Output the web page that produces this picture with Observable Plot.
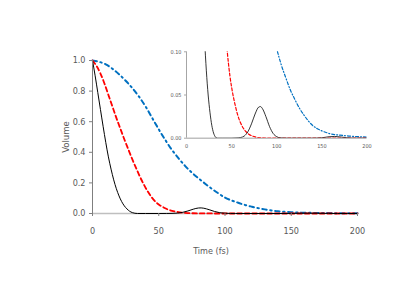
<!DOCTYPE html>
<html><head><meta charset="utf-8">
<script src="https://cdn.jsdelivr.net/npm/d3@7"></script>
<script src="https://cdn.jsdelivr.net/npm/@observablehq/plot@0.6"></script>
<style>
html,body{margin:0;padding:0;background:#fff;}
#wrap{position:relative;width:415px;height:294px;}
#wrap svg{position:absolute;left:0;top:0;}
</style></head><body><div id="wrap"></div>
<script>
// Time (fs) and volume values
const blackT = [0,2,4,6,8,10,12,14,16,18,20,22,24,26,28,30,32,34,40,50,56,60,64,68,72,76,80,82,84,88,92,96,100,104,108,112,140,150,158,164,170,178,185,200];
const blackV = [1.0,0.9,0.79,0.68,0.57,0.465,0.37,0.29,0.22,0.162,0.115,0.078,0.05,0.03,0.015,0.006,0.0015,0,0,0,0.0003,0.0008,0.0025,0.0075,0.0166,0.028,0.036,0.0366,0.0345,0.025,0.0135,0.0055,0.0017,0.0004,0.0001,0,0,0.0005,0.0017,0.002,0.0015,0.0005,0,0];
const redT = [0,3,6,9,12,15,18,21,24,27,30,33,36,39,42,45,48,51,54,57,60,63,66,69,72,76,80,90,100,150,200];
const redV = [1.0,0.965,0.915,0.85,0.775,0.7,0.625,0.555,0.485,0.42,0.355,0.295,0.237,0.185,0.14,0.102,0.073,0.053,0.038,0.026,0.0175,0.0115,0.0075,0.0047,0.003,0.0015,0.0007,0.0002,0.0001,0,0];
const blueT = [0,10,20,30,35,40,45,50,55,60,65,70,75,80,85,90,95,100,105,110,115,120,125,130,135,140,145,150,160,170,180,190,200];
const blueV = [1.0,0.975,0.91,0.82,0.765,0.7,0.625,0.55,0.48,0.415,0.36,0.31,0.267,0.23,0.195,0.162,0.132,0.104,0.085,0.07,0.056,0.045,0.035,0.027,0.02,0.0145,0.011,0.0085,0.005,0.0035,0.0025,0.0018,0.0012];
const mainXTicks = [0,50,100,150,200];
const mainYTicks = [0,0.2,0.4,0.6,0.8,1.0];
const insetXTicks = [0,50,100,150,200];
const insetYTicks = [0,0.05,0.1];
const xTitle = "Time (fs)";
const yTitle = "Volume";

const toRows = (T, V) => T.map((t, i) => ({t, v: V[i]}));
const black = toRows(blackT, blackV);
const red = toRows(redT, redV);
const blue = toRows(blueT, blueV);

const FONT = "'Liberation Sans Narrow', 'Arial Narrow', 'DejaVu Sans Condensed', sans-serif";
const wrap = document.getElementById("wrap");

const main = Plot.plot({
  width: 415, height: 294,
  marginLeft: 92, marginRight: 58, marginTop: 60, marginBottom: 81,
  style: {fontFamily: FONT, fontSize: "9px", color: "#595959", background: "transparent", overflow: "visible"},
  x: {domain: [0, 200]},
  y: {domain: [0, 1]},
  marks: [
    Plot.ruleY([0], {stroke: "#bfbfbf", strokeWidth: 1.5}),
    Plot.line(blue, {x: "t", y: "v", stroke: "#0070c0", strokeWidth: 2, strokeDasharray: "4.5,3.5,1.5,3.5", curve: "monotone-x"}),
    Plot.line(red, {x: "t", y: "v", stroke: "#ff0000", strokeWidth: 1.8, strokeDasharray: "4.5,3", curve: "monotone-x"}),
    Plot.line(black, {x: "t", y: "v", stroke: "#000000", strokeWidth: 1, curve: "monotone-x"}),
    Plot.ruleX([0], {stroke: "#7f7f7f", strokeWidth: 1}),
    Plot.axisY({ticks: mainYTicks, tickFormat: d => d.toFixed(1), tickSize: 3, tickPadding: 4, stroke: "#7f7f7f", label: null, fontSize: 9}),
    Plot.axisX({ticks: mainXTicks, tickSize: 3, tickPadding: 11, stroke: "#7f7f7f", label: null, fontSize: 9}),
    Plot.text([yTitle], {frameAnchor: "left", textAnchor: "middle", rotate: -90, dx: -27, fontSize: 9.5, fill: "#595959", letterSpacing: "0.4px"}),
    Plot.text([xTitle], {frameAnchor: "bottom", dx: -14, dy: 40, fontSize: 9, fill: "#595959"})
  ]
});
wrap.appendChild(main);

const inset = Plot.plot({
  width: 415, height: 294,
  marginLeft: 186, marginRight: 48.5, marginTop: 51.3, marginBottom: 156.3,
  style: {fontFamily: FONT, fontSize: "5.5px", color: "#595959", background: "transparent", overflow: "visible"},
  x: {domain: [0, 200]},
  y: {domain: [0, 0.1]},
  marks: [
    Plot.ruleY([0], {stroke: "#bfbfbf", strokeWidth: 1.5}),
    Plot.line(blue, {x: "t", y: "v", stroke: "#0070c0", strokeWidth: 1.2, strokeDasharray: "3,2,1,2", curve: "monotone-x", clip: true}),
    Plot.line(red, {x: "t", y: "v", stroke: "#ff0000", strokeWidth: 1.2, strokeDasharray: "3,2", curve: "monotone-x", clip: true}),
    Plot.line(black, {x: "t", y: "v", stroke: "#000000", strokeWidth: 0.8, curve: "monotone-x", clip: true}),
    Plot.ruleX([0], {stroke: "#a6a6a6", strokeWidth: 1}),
    Plot.axisY({ticks: insetYTicks, tickFormat: d => d.toFixed(2), tickSize: 2, tickPadding: 3, stroke: "#a6a6a6", label: null, fontSize: 5.5}),
    Plot.axisX({ticks: insetXTicks, tickSize: 0, tickPadding: 6, label: null, fontSize: 5.5})
  ]
});
wrap.appendChild(inset);
</script></body></html>
